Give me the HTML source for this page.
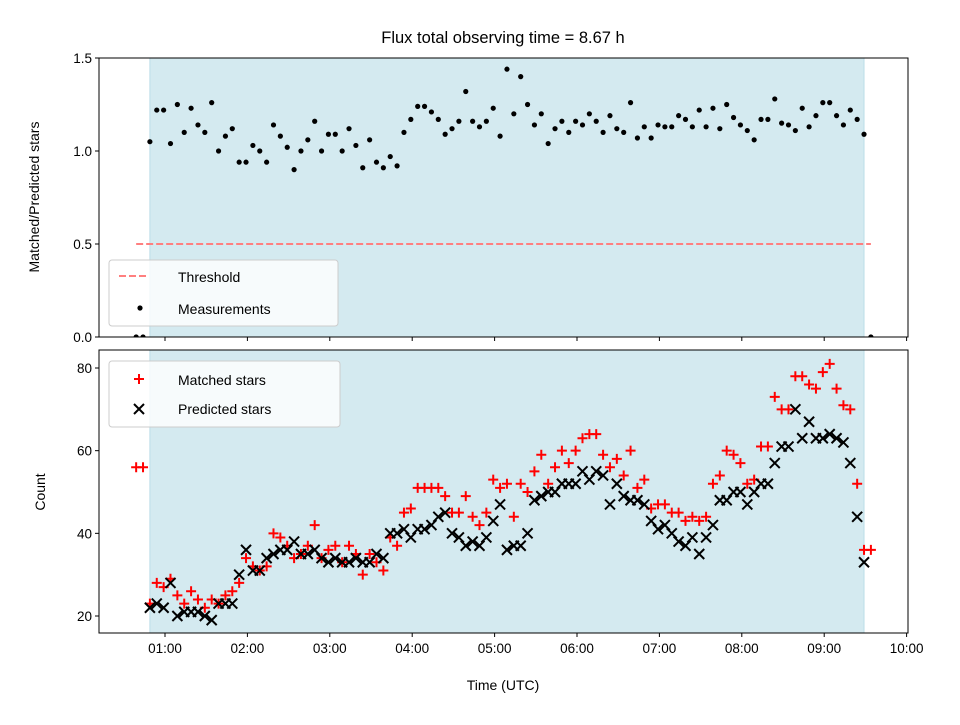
<!DOCTYPE html>
<html><head><meta charset="utf-8"><style>
body{margin:0;background:#fff;}
text{font-family:"Liberation Sans","DejaVu Sans",sans-serif;fill:#000;}
</style></head><body>
<svg id="chart" width="960" height="720" xmlns="http://www.w3.org/2000/svg">
<rect width="960" height="720" fill="#fff"/>
<text x="503" y="43" font-size="16.5" text-anchor="middle">Flux total observing time = 8.67 h</text>
<g id="topPanel"></g>
<g id="botPanel"></g>
</svg>
<script>
const times=[39,44,49,54,59,64,69,74,79,84,89,94,99,104,109,114,119,124,129,134,139,144,149,154,159,164,169,174,179,184,189,194,199,204,209,214,219,224,229,234,239,244,249,254,259,264,269,274,279,284,289,294,299,304,309,314,319,324,329,334,339,344,349,354,359,364,369,374,379,384,389,394,399,404,409,414,419,424,429,434,439,444,449,454,459,464,469,474,479,484,489,494,499,504,509,514,519,524,529,534,539,544,549,554,559,564,569,574];
const ratio=[0,0,1.05,1.22,1.22,1.04,1.25,1.10,1.23,1.14,1.10,1.26,1.00,1.08,1.12,0.94,0.94,1.03,1.00,0.94,1.14,1.08,1.02,0.90,1.00,1.06,1.16,1.00,1.09,1.09,1.00,1.12,1.03,0.91,1.06,0.94,0.91,0.97,0.92,1.10,1.17,1.24,1.24,1.21,1.17,1.09,1.12,1.16,1.32,1.16,1.13,1.16,1.23,1.08,1.44,1.20,1.40,1.25,1.14,1.20,1.04,1.12,1.16,1.10,1.16,1.14,1.20,1.16,1.10,1.19,1.12,1.10,1.26,1.07,1.13,1.07,1.14,1.13,1.13,1.19,1.17,1.13,1.22,1.13,1.23,1.12,1.25,1.18,1.14,1.11,1.06,1.17,1.17,1.28,1.15,1.14,1.11,1.23,1.13,1.19,1.26,1.26,1.19,1.14,1.22,1.17,1.09,0];
const matched=[56,56,23,28,27,29,25,23,26,24,22,24,23,25,26,28,34,32,31,32,40,39,37,34,35,37,42,34,36,37,33,37,35,30,35,33,31,39,37,45,46,51,51,51,51,49,45,45,49,44,42,45,53,51,52,44,52,50,55,59,52,56,60,57,60,63,64,64,59,56,58,54,60,51,53,46,47,47,45,45,43,44,43,44,52,54,60,59,57,52,53,61,61,73,70,70,78,78,76,75,79,81,75,71,70,52,36,36];
const predicted=[0,0,22,23,22,28,20,21,21,21,20,19,23,23,23,30,36,31,31,34,35,36,36,38,35,35,36,34,33,34,33,33,34,33,33,35,34,40,40,41,39,41,41,42,44,45,40,39,37,38,37,39,43,47,36,37,37,40,48,49,50,50,52,52,52,55,53,55,54,47,52,49,48,48,47,43,41,42,40,38,37,39,35,39,42,48,48,50,50,47,50,52,52,57,61,61,70,63,67,63,63,64,63,62,57,44,33,0];
const xTicks=["01:00","02:00","03:00","04:00","05:00","06:00","07:00","08:00","09:00","10:00"];
const topTicks=[0.0,0.5,1.0,1.5];
const botTicks=[20,40,60,80];
const threshold=0.5;
const spanStart=49, spanEnd=569;
const threshStart=39, threshEnd=574;

const NS="http://www.w3.org/2000/svg";
const L=99,R=908;
const xs=m=>82.6+m*82.4/60;
const yTop=v=>337-v*186;
const botY0=350,botY1=633;
const yBot=v=>616-(v-20)*4.1333;
function mk(p,tag,a){const e=document.createElementNS(NS,tag);for(const k in a)e.setAttribute(k,a[k]);p.appendChild(e);return e;}
const gTop=document.getElementById('topPanel'),gBot=document.getElementById('botPanel');
const svgEl=document.getElementById('chart');
const defs=mk(svgEl,'defs',{});
const c1=mk(defs,'clipPath',{id:'ct'});mk(c1,'rect',{x:L,y:58,width:R-L,height:279});
const c2=mk(defs,'clipPath',{id:'cb'});mk(c2,'rect',{x:L,y:botY0,width:R-L,height:botY1-botY0});

function panel(g,y0,y1,clip){
  const s=mk(g,'rect',{x:xs(spanStart),y:y0,width:xs(spanEnd)-xs(spanStart),height:y1-y0,fill:'#d4eaf0',stroke:'#bcdde8','stroke-width':1});
  
  
  return mk(g,'g',{'clip-path':'url(#'+clip+')'});
}
const dt=panel(gTop,58,337,'ct');
const th=mk(dt,'line',{x1:xs(threshStart),x2:xs(threshEnd),y1:yTop(threshold),y2:yTop(threshold),stroke:'#ff7f7f','stroke-width':2,'stroke-dasharray':'7,3'});


times.forEach((t,i)=>{
  const c=mk(dt,'circle',{cx:xs(t),cy:yTop(ratio[i]),r:2.6,fill:'#000'});
  
  
});
const db=panel(gBot,botY0,botY1,'cb');
times.forEach((t,i)=>{
  const x=xs(t),y=yBot(matched[i]);
  const p=mk(db,'path',{d:`M${x-5},${y}H${x+5}M${x},${y-5}V${y+5}`,stroke:'#ff0000','stroke-width':2});
  
  
});
times.forEach((t,i)=>{
  const x=xs(t),y=yBot(predicted[i]);
  const p=mk(db,'path',{d:`M${x-5},${y-5}L${x+5},${y+5}M${x-5},${y+5}L${x+5},${y-5}`,stroke:'#000','stroke-width':2});
  
  
});
mk(gTop,'rect',{x:L,y:58,width:R-L,height:279,fill:'none',stroke:'#000','stroke-width':1});
mk(gBot,'rect',{x:L,y:botY0,width:R-L,height:botY1-botY0,fill:'none',stroke:'#000','stroke-width':1});
xTicks.forEach((lab,i)=>{
  const x=xs(60*(i+1));
  mk(gTop,'line',{x1:x,x2:x,y1:337,y2:341,stroke:'#000'});
  mk(gBot,'line',{x1:x,x2:x,y1:botY1,y2:botY1+4,stroke:'#000'});
  const t=mk(gBot,'text',{x:x,y:botY1+20,'font-size':13.5,'text-anchor':'middle'});
  t.textContent=lab;
  
  
});
topTicks.forEach(v=>{
  const y=yTop(v);
  mk(gTop,'line',{x1:L-4,x2:L,y1:y,y2:y,stroke:'#000'});
  const t=mk(gTop,'text',{x:L-7,y:y+5,'font-size':13.5,'text-anchor':'end'});
  t.textContent=v.toFixed(1);
  
  
});
botTicks.forEach(v=>{
  const y=yBot(v);
  mk(gBot,'line',{x1:L-4,x2:L,y1:y,y2:y,stroke:'#000'});
  const t=mk(gBot,'text',{x:L-7,y:y+5,'font-size':13.5,'text-anchor':'end'});
  t.textContent=v;
  
  
});
</script>
<svg style="position:absolute;left:0;top:0" width="960" height="720">
<text transform="translate(39,197) rotate(-90)" font-size="14" text-anchor="middle">Matched/Predicted stars</text>
<text transform="translate(45,492) rotate(-90)" font-size="14" text-anchor="middle">Count</text>
<text x="503" y="690" font-size="14" text-anchor="middle">Time (UTC)</text>
<g>
<rect x="109" y="260" width="229" height="66" rx="3" fill="#fff" fill-opacity="0.8" stroke="#ccc"/>
<line x1="119" x2="147" y1="276" y2="276" stroke="#ff7f7f" stroke-width="2" stroke-dasharray="7,3"/>
<text x="178" y="282" font-size="14">Threshold</text>
<circle cx="140" cy="308" r="2.6" fill="#000"/>
<text x="178" y="314" font-size="14">Measurements</text>
</g>
<g>
<rect x="109" y="361" width="231" height="66" rx="3" fill="#fff" fill-opacity="0.8" stroke="#ccc"/>
<path d="M134,379H144M139,374V384" stroke="#f00" stroke-width="2"/>
<text x="178" y="385" font-size="14">Matched stars</text>
<path d="M134,404L144,414M134,414L144,404" stroke="#000" stroke-width="2"/>
<text x="178" y="414" font-size="14">Predicted stars</text>
</g>
</svg>
</body></html>
